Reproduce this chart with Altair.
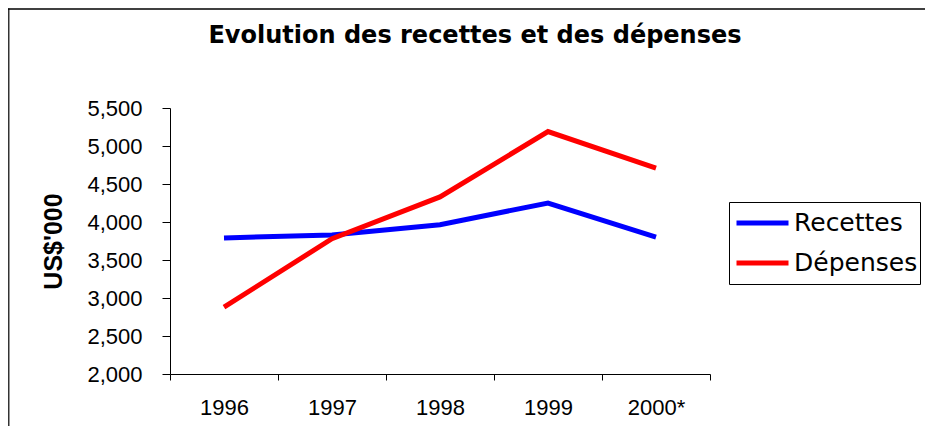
import altair as alt
import pandas as pd

years = ["1996", "1997", "1998", "1999", "2000*"]
recettes = [3790, 3830, 3965, 4250, 3800]
depenses = [2880, 3780, 4330, 5190, 4710]
series_names = ["Recettes", "Dépenses"]
series_colors = ["#0000FF", "#FF0000"]
y_ticks = [2000, 2500, 3000, 3500, 4000, 4500, 5000, 5500]

rows = []
for i, y in enumerate(years):
    rows.append({"year": y, "serie": "Recettes", "value": recettes[i], "o": i})
for i, y in enumerate(years):
    rows.append({"year": y, "serie": "Dépenses", "value": depenses[i], "o": i})
df = pd.DataFrame(rows)

FONT = "Liberation Sans"
WIDE = "DejaVu Sans"

lines = alt.Chart(df).mark_line(strokeWidth=5, strokeCap="butt", strokeJoin="miter").encode(
    x=alt.X("year:N", sort=years,
            scale=alt.Scale(type="band", paddingInner=0, paddingOuter=0),
            axis=alt.Axis(title=None, labelAngle=0, tickBand="extent", tickSize=6,
                          labelPadding=17, labelFontSize=22, labelFont=FONT,
                          labelColor="#000", domainColor="#000", tickColor="#000",
                          grid=False)),
    y=alt.Y("value:Q",
            scale=alt.Scale(domain=[2000, 5500], nice=False, zero=False),
            axis=alt.Axis(title="US$'000", values=y_ticks, format=",.0f", tickSize=8,
                          labelPadding=20, labelFontSize=22, labelFont=FONT,
                          labelColor="#000", domainColor="#000", tickColor="#000",
                          titleFont=FONT, titleFontSize=25, titleFontWeight="bold",
                          titleColor="#000", titlePadding=20, grid=False)),
    color=alt.Color("serie:N",
                    scale=alt.Scale(domain=series_names, range=series_colors),
                    legend=alt.Legend(title=None, orient="none", legendX=559, legendY=94,
                                      strokeColor="#000", fillColor="#fff", padding=2,
                                      symbolType="stroke", symbolSize=2704,
                                      symbolStrokeWidth=5, symbolOffset=3,
                                      labelFontSize=25, labelFont=WIDE, labelColor="#000",
                                      labelOffset=3, clipHeight=38)),
    order="o:O",
)

frame_df = pd.DataFrame({"k": [0]})
frame_left = alt.Chart(frame_df).mark_rule(color="#333", strokeWidth=1.5).encode(
    x=alt.value(-161.25), y=alt.value(-99.5), y2=alt.value(320))
frame_top = alt.Chart(frame_df).mark_rule(color="#000", strokeWidth=1.5).encode(
    x=alt.value(-162), x2=alt.value(760), y=alt.value(-99))

chart = alt.layer(lines, frame_left, frame_top).properties(
    width=540, height=266,
    title=alt.TitleParams("Evolution des recettes et des dépenses", font=WIDE,
                          fontSize=24, fontWeight="bold", color="#000",
                          anchor="middle", dx=35, offset=-59, baseline="alphabetic"),
    autosize=alt.AutoSizeParams(type="none"),
    padding={"left": 162, "top": 100, "right": 215, "bottom": 52},
).configure_view(stroke=None)

chart.save("out.html", embed_options={"renderer": "svg", "actions": False})
